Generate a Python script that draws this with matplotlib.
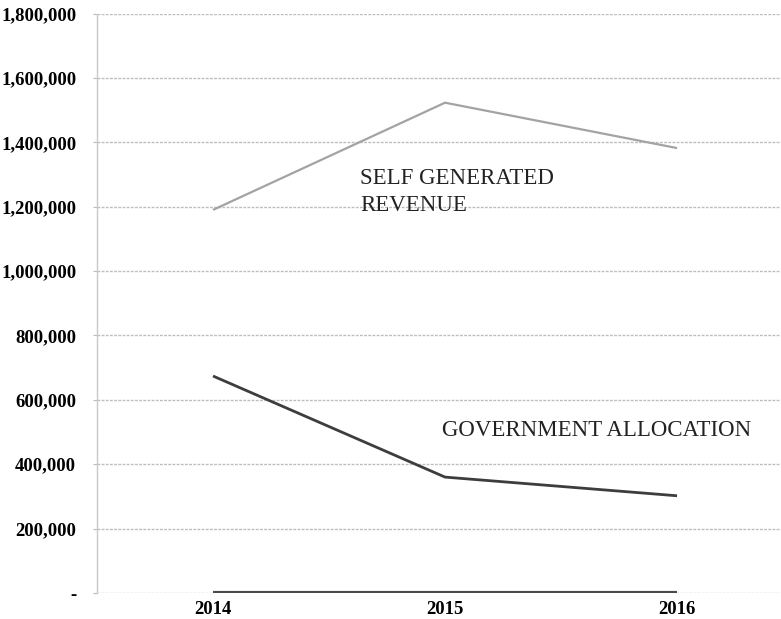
import matplotlib
matplotlib.use("Agg")
from matplotlib import pyplot as plt
from matplotlib.ticker import FuncFormatter

# revenue by source, 2014-2016
years = ["2014", "2015", "2016"]
self_generated = [1190000, 1523000, 1382000]
government = [674000, 360000, 302000]
other = [0, 0, 0]

yticks = [0, 200000, 400000, 600000, 800000, 1000000, 1200000, 1400000, 1600000, 1800000]

plt.rcParams['font.family'] = ['Liberation Serif', 'DejaVu Serif']

fig = plt.figure(figsize=(7.81, 6.19), dpi=100)
ax = fig.add_axes([97 / 781, 26 / 619, 684 / 781, 579.5 / 619])

x = range(len(years))
ax.plot(x, self_generated, color='#a3a3a3', lw=1.6, solid_capstyle='butt')
ax.plot(x, government, color='#3d3d3d', lw=2.0, solid_capstyle='butt')
ax.plot(x, other, color='#4a4a4a', lw=3.0, solid_capstyle='butt', zorder=3)

ax.set_xlim(-0.5, 2.448)
ax.set_ylim(0, 1800000)
ax.set_xticks(list(x))
ax.set_xticklabels(years)
ax.set_yticks(yticks)
ax.yaxis.set_major_formatter(FuncFormatter(lambda v, p: '-' if v == 0 else f'{int(v):,}'))

for lab in ax.get_xticklabels() + ax.get_yticklabels():
    lab.set_fontweight('bold')
    lab.set_fontsize(13.5)
ax.tick_params(axis='y', length=3, color='#bbbbbb', pad=12)
ax.tick_params(axis='x', length=0, pad=6)

ax.grid(axis='y', color='#bdbdbd', lw=1.0, ls=(0, (2, 1)))
ax.set_axisbelow(True)
for s in ['top', 'right', 'bottom']:
    ax.spines[s].set_visible(False)
ax.spines['left'].set_color('#c8c8c8')
ax.spines['left'].set_linestyle((0, (2, 1)))
ax.spines['left'].set_linewidth(1.0)

ax.text(0.634, 1320000, "SELF GENERATED\nREVENUE", fontsize=16.5, color='#222222',
        ha='left', va='top', linespacing=1.35)
ax.text(0.987, 506000, "GOVERNMENT ALLOCATION", fontsize=16.5, color='#222222',
        ha='left', va='center')

plt.savefig('out.png', dpi=100)
